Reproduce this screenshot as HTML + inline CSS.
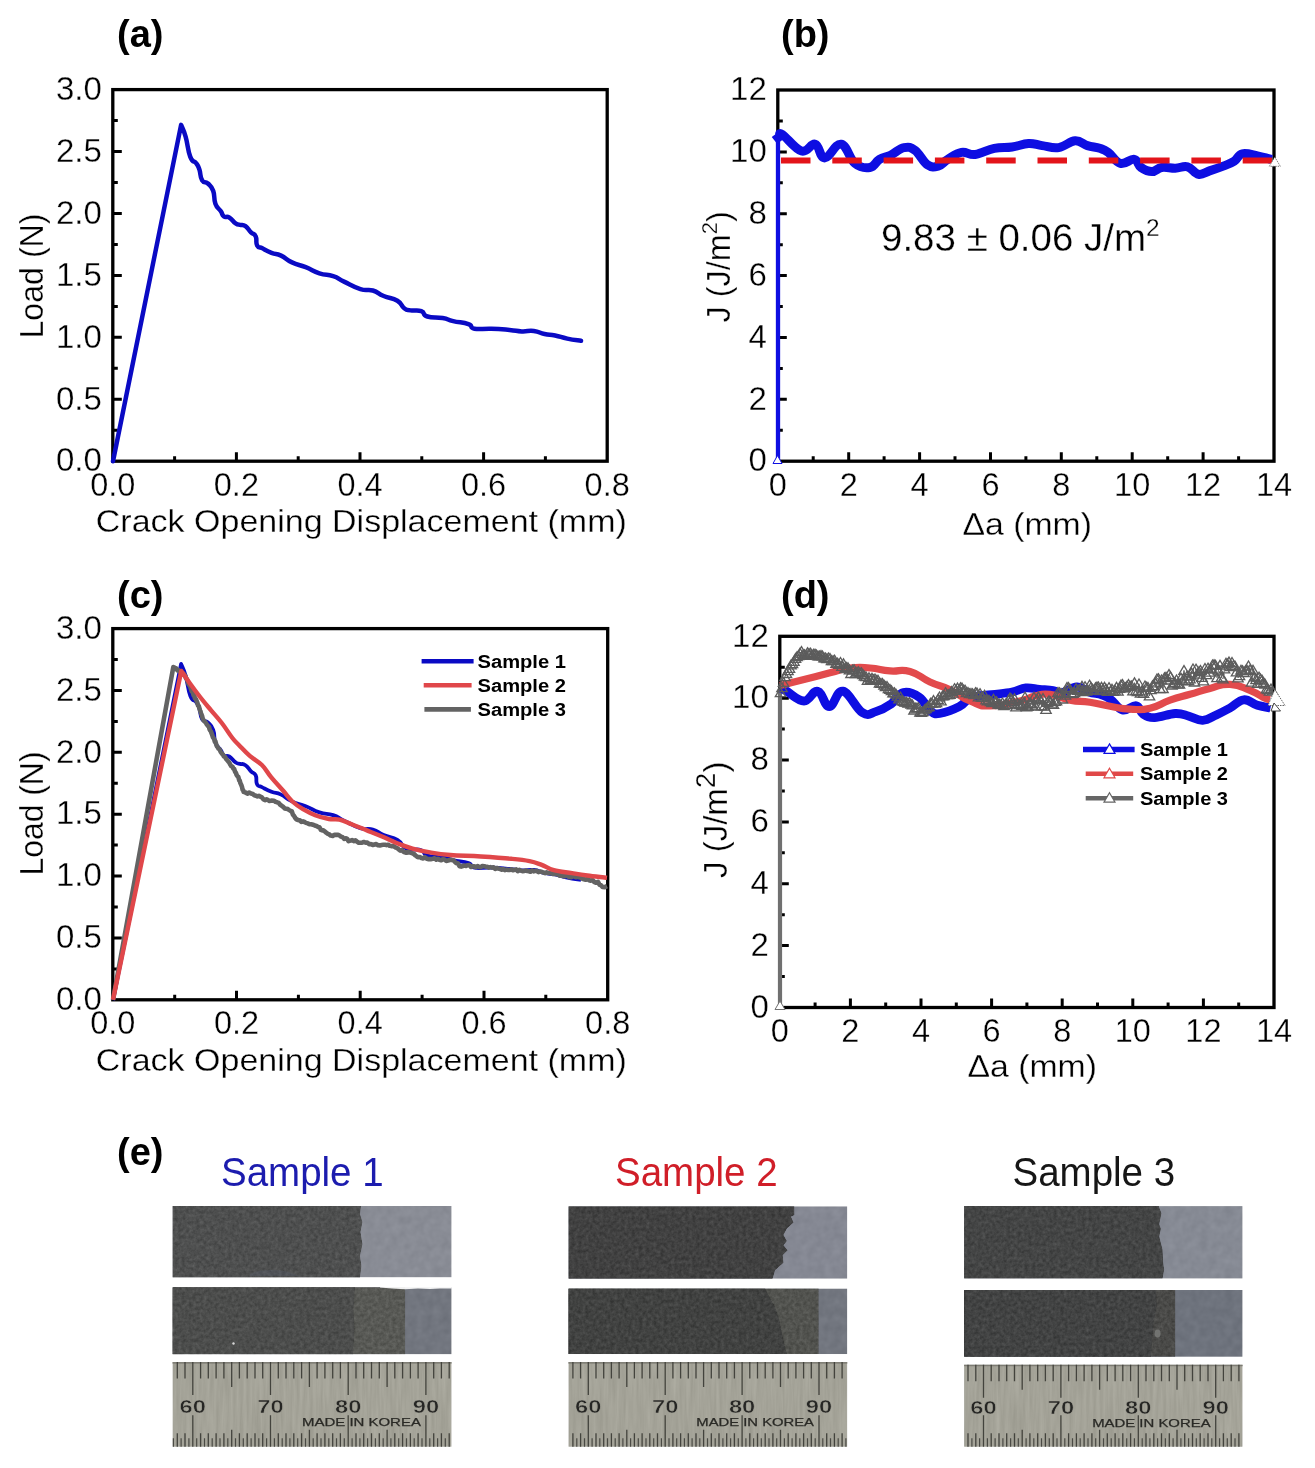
<!DOCTYPE html>
<html><head><meta charset="utf-8"><title>Figure</title>
<style>html,body{margin:0;padding:0;background:#fff;overflow:hidden;}svg{display:block;filter:blur(0.4px);}.e{stroke:#fff;stroke-width:0.3px;}</style></head>
<body>
<svg width="1315" height="1468" viewBox="0 0 1315 1468" font-family="Liberation Sans, sans-serif" fill="#000">
<defs>
<filter id="grain" x="0" y="0" width="100%" height="100%" color-interpolation-filters="sRGB">
<feTurbulence type="fractalNoise" baseFrequency="0.28" numOctaves="3" seed="4"/>
<feColorMatrix type="matrix" values="1 0 0 0 0  1 0 0 0 0  1 0 0 0 0  0 0 0 0 1"/>
<feComposite in2="SourceGraphic" operator="arithmetic" k1="0" k2="0.16" k3="1" k4="-0.08"/>
<feComposite in2="SourceGraphic" operator="in"/>
</filter>
<filter id="grain2" x="0" y="0" width="100%" height="100%" color-interpolation-filters="sRGB">
<feTurbulence type="fractalNoise" baseFrequency="0.12" numOctaves="2" seed="9"/>
<feColorMatrix type="matrix" values="1 0 0 0 0  1 0 0 0 0  1 0 0 0 0  0 0 0 0 1"/>
<feComposite in2="SourceGraphic" operator="arithmetic" k1="0" k2="0.07" k3="1" k4="-0.035"/>
<feComposite in2="SourceGraphic" operator="in"/>
</filter>
<filter id="brush" x="0" y="0" width="100%" height="100%" color-interpolation-filters="sRGB">
<feTurbulence type="fractalNoise" baseFrequency="0.3 0.02" numOctaves="3" seed="2"/>
<feColorMatrix type="matrix" values="1 0 0 0 0  1 0 0 0 0  1 0 0 0 0  0 0 0 0 1"/>
<feComposite in2="SourceGraphic" operator="arithmetic" k1="0" k2="0.09" k3="1" k4="-0.045"/>
<feComposite in2="SourceGraphic" operator="in"/>
</filter>
<path id="tg" d="M0,-4.8L5.2,4L-5.2,4Z" fill="none" stroke="#5c5c5c" stroke-width="1.3"/>
<path id="tr" d="M0,-5.2L5.6,4.3L-5.6,4.3Z" fill="#fff" stroke="#e24a4c" stroke-width="1.4"/>
</defs>
<rect width="1315" height="1468" fill="#fff"/>
<g font-weight="bold" font-size="38">
<text x="117" y="46.9">(a)</text>
<text x="781" y="47.0">(b)</text>
<text x="117" y="607.9">(c)</text>
<text x="781" y="607.9">(d)</text>
<text x="117" y="1164.6">(e)</text>
</g>
<path d="M174.6,461.2V456.2M236.4,461.2V452.2M298.2,461.2V456.2M360.0,461.2V452.2M421.8,461.2V456.2M483.6,461.2V452.2M545.4,461.2V456.2M112.8,430.2H117.8M112.8,399.3H121.8M112.8,368.3H117.8M112.8,337.3H121.8M112.8,306.4H117.8M112.8,275.4H121.8M112.8,244.4H117.8M112.8,213.5H121.8M112.8,182.5H117.8M112.8,151.5H121.8M112.8,120.6H117.8" stroke="#000" stroke-width="3" fill="none"/>
<rect x="112.8" y="89.6" width="494.4" height="371.6" fill="none" stroke="#000" stroke-width="3.3"/>
<text x="112.8" y="495.5" font-size="32.5" text-anchor="middle" class="e">0.0</text>
<text x="236.4" y="495.5" font-size="32.5" text-anchor="middle" class="e">0.2</text>
<text x="360.0" y="495.5" font-size="32.5" text-anchor="middle" class="e">0.4</text>
<text x="483.6" y="495.5" font-size="32.5" text-anchor="middle" class="e">0.6</text>
<text x="607.2" y="495.5" font-size="32.5" text-anchor="middle" class="e">0.8</text>
<text x="101.8" y="471.4" font-size="33" text-anchor="end" class="e">0.0</text>
<text x="101.8" y="409.5" font-size="33" text-anchor="end" class="e">0.5</text>
<text x="101.8" y="347.5" font-size="33" text-anchor="end" class="e">1.0</text>
<text x="101.8" y="285.6" font-size="33" text-anchor="end" class="e">1.5</text>
<text x="101.8" y="223.7" font-size="33" text-anchor="end" class="e">2.0</text>
<text x="101.8" y="161.7" font-size="33" text-anchor="end" class="e">2.5</text>
<text x="101.8" y="99.8" font-size="33" text-anchor="end" class="e">3.0</text>
<path d="M813.2,461.2V456.2M848.7,461.2V452.2M884.1,461.2V456.2M919.6,461.2V452.2M955.0,461.2V456.2M990.5,461.2V452.2M1025.9,461.2V456.2M1061.3,461.2V452.2M1096.8,461.2V456.2M1132.2,461.2V452.2M1167.7,461.2V456.2M1203.1,461.2V452.2M1238.6,461.2V456.2M777.8,430.3H782.8M777.8,399.3H786.8M777.8,368.4H782.8M777.8,337.5H786.8M777.8,306.5H782.8M777.8,275.6H786.8M777.8,244.7H782.8M777.8,213.7H786.8M777.8,182.8H782.8M777.8,151.9H786.8M777.8,120.9H782.8" stroke="#000" stroke-width="3" fill="none"/>
<rect x="777.8" y="90.0" width="496.2" height="371.2" fill="none" stroke="#000" stroke-width="3.3"/>
<text x="777.8" y="495.5" font-size="32.5" text-anchor="middle" class="e">0</text>
<text x="848.7" y="495.5" font-size="32.5" text-anchor="middle" class="e">2</text>
<text x="919.6" y="495.5" font-size="32.5" text-anchor="middle" class="e">4</text>
<text x="990.5" y="495.5" font-size="32.5" text-anchor="middle" class="e">6</text>
<text x="1061.3" y="495.5" font-size="32.5" text-anchor="middle" class="e">8</text>
<text x="1132.2" y="495.5" font-size="32.5" text-anchor="middle" class="e">10</text>
<text x="1203.1" y="495.5" font-size="32.5" text-anchor="middle" class="e">12</text>
<text x="1274.0" y="495.5" font-size="32.5" text-anchor="middle" class="e">14</text>
<text x="766.8" y="471.4" font-size="33" text-anchor="end" class="e">0</text>
<text x="766.8" y="409.5" font-size="33" text-anchor="end" class="e">2</text>
<text x="766.8" y="347.7" font-size="33" text-anchor="end" class="e">4</text>
<text x="766.8" y="285.8" font-size="33" text-anchor="end" class="e">6</text>
<text x="766.8" y="223.9" font-size="33" text-anchor="end" class="e">8</text>
<text x="766.8" y="162.1" font-size="33" text-anchor="end" class="e">10</text>
<text x="766.8" y="100.2" font-size="33" text-anchor="end" class="e">12</text>
<path d="M174.7,999.8V994.8M236.5,999.8V990.8M298.4,999.8V994.8M360.2,999.8V990.8M422.1,999.8V994.8M484.0,999.8V990.8M545.8,999.8V994.8M112.8,968.9H117.8M112.8,937.9H121.8M112.8,907.0H117.8M112.8,876.1H121.8M112.8,845.1H117.8M112.8,814.2H121.8M112.8,783.3H117.8M112.8,752.3H121.8M112.8,721.4H117.8M112.8,690.5H121.8M112.8,659.5H117.8" stroke="#000" stroke-width="3" fill="none"/>
<rect x="112.8" y="628.6" width="494.9" height="371.2" fill="none" stroke="#000" stroke-width="3.3"/>
<text x="112.8" y="1034.1" font-size="32.5" text-anchor="middle" class="e">0.0</text>
<text x="236.5" y="1034.1" font-size="32.5" text-anchor="middle" class="e">0.2</text>
<text x="360.2" y="1034.1" font-size="32.5" text-anchor="middle" class="e">0.4</text>
<text x="484.0" y="1034.1" font-size="32.5" text-anchor="middle" class="e">0.6</text>
<text x="607.7" y="1034.1" font-size="32.5" text-anchor="middle" class="e">0.8</text>
<text x="101.8" y="1010.0" font-size="33" text-anchor="end" class="e">0.0</text>
<text x="101.8" y="948.1" font-size="33" text-anchor="end" class="e">0.5</text>
<text x="101.8" y="886.3" font-size="33" text-anchor="end" class="e">1.0</text>
<text x="101.8" y="824.4" font-size="33" text-anchor="end" class="e">1.5</text>
<text x="101.8" y="762.5" font-size="33" text-anchor="end" class="e">2.0</text>
<text x="101.8" y="700.7" font-size="33" text-anchor="end" class="e">2.5</text>
<text x="101.8" y="638.8" font-size="33" text-anchor="end" class="e">3.0</text>
<path d="M815.1,1007.5V1002.5M850.4,1007.5V998.5M885.7,1007.5V1002.5M921.0,1007.5V998.5M956.3,1007.5V1002.5M991.6,1007.5V998.5M1026.9,1007.5V1002.5M1062.2,1007.5V998.5M1097.5,1007.5V1002.5M1132.8,1007.5V998.5M1168.1,1007.5V1002.5M1203.4,1007.5V998.5M1238.7,1007.5V1002.5M779.8,976.6H784.8M779.8,945.6H788.8M779.8,914.7H784.8M779.8,883.8H788.8M779.8,852.8H784.8M779.8,821.9H788.8M779.8,791.0H784.8M779.8,760.0H788.8M779.8,729.1H784.8M779.8,698.2H788.8M779.8,667.2H784.8" stroke="#000" stroke-width="3" fill="none"/>
<rect x="779.8" y="636.3" width="494.2" height="371.2" fill="none" stroke="#000" stroke-width="3.3"/>
<text x="779.8" y="1041.8" font-size="32.5" text-anchor="middle" class="e">0</text>
<text x="850.4" y="1041.8" font-size="32.5" text-anchor="middle" class="e">2</text>
<text x="921.0" y="1041.8" font-size="32.5" text-anchor="middle" class="e">4</text>
<text x="991.6" y="1041.8" font-size="32.5" text-anchor="middle" class="e">6</text>
<text x="1062.2" y="1041.8" font-size="32.5" text-anchor="middle" class="e">8</text>
<text x="1132.8" y="1041.8" font-size="32.5" text-anchor="middle" class="e">10</text>
<text x="1203.4" y="1041.8" font-size="32.5" text-anchor="middle" class="e">12</text>
<text x="1274.0" y="1041.8" font-size="32.5" text-anchor="middle" class="e">14</text>
<text x="768.8" y="1017.7" font-size="33" text-anchor="end" class="e">0</text>
<text x="768.8" y="955.8" font-size="33" text-anchor="end" class="e">2</text>
<text x="768.8" y="894.0" font-size="33" text-anchor="end" class="e">4</text>
<text x="768.8" y="832.1" font-size="33" text-anchor="end" class="e">6</text>
<text x="768.8" y="770.2" font-size="33" text-anchor="end" class="e">8</text>
<text x="768.8" y="708.4" font-size="33" text-anchor="end" class="e">10</text>
<text x="768.8" y="646.5" font-size="33" text-anchor="end" class="e">12</text>
<text x="95.8" y="531.6" font-size="31.5" class="e" textLength="531" lengthAdjust="spacingAndGlyphs">Crack Opening Displacement (mm)</text>
<text x="95.8" y="1070.8" font-size="31.5" class="e" textLength="531" lengthAdjust="spacingAndGlyphs">Crack Opening Displacement (mm)</text>
<text x="962.5" y="534.5" font-size="31.5" class="e" textLength="129.5" lengthAdjust="spacingAndGlyphs">Δa (mm)</text>
<text x="967.5" y="1076.5" font-size="31.5" class="e" textLength="129.5" lengthAdjust="spacingAndGlyphs">Δa (mm)</text>
<text transform="translate(43.2,338.5) rotate(-90)" font-size="33.5" class="e" textLength="125" lengthAdjust="spacingAndGlyphs">Load (N)</text>
<text transform="translate(43.2,875.5) rotate(-90)" font-size="33.5" class="e" textLength="124" lengthAdjust="spacingAndGlyphs">Load (N)</text>
<text transform="translate(729.5,322.5) rotate(-90)" font-size="32.4" class="e">J (J/m<tspan font-size="22" dy="-12.5">2</tspan><tspan dy="12.5">)</tspan></text>
<text transform="translate(726.5,878) rotate(-90)" font-size="33" class="e">J (J/m<tspan font-size="28" dy="-12">2</tspan><tspan dy="12">)</tspan></text>
<text x="881" y="250.6" font-size="38.5" class="e">9.83 ± 0.06 J/m<tspan font-size="24.5" dy="-14.5">2</tspan></text>
<path d="M113,461.2L181.1,124.9C182.3,128.0 183.1,128.1 185.6,136.6C188.1,145.1 187.5,149.7 190.3,156.8C193.1,163.9 193.8,159.8 196.2,163.2C198.6,166.6 197.8,165.0 199.4,169.6C201.0,174.2 199.8,176.6 202.1,180.3C204.4,184.0 204.9,180.7 207.9,183.5C210.9,186.3 211.2,185.5 213.2,190.9C215.2,196.3 213.4,198.3 215.4,203.7C217.4,209.1 218.4,207.7 220.7,211.1C223.0,214.5 221.6,214.8 223.9,216.5C226.2,218.2 226.1,215.7 229.2,217.5C232.3,219.3 232.7,221.5 235.6,223.4C238.5,225.3 237.4,224.1 240.0,224.8C242.6,225.5 242.6,224.2 245.5,226.2C248.4,228.2 248.3,229.6 251.0,232.3C253.7,235.0 254.1,232.9 255.7,236.4C257.3,239.9 255.4,242.2 257.1,245.3C258.8,248.4 258.1,246.1 261.9,248.1C265.7,250.1 266.4,250.8 271.5,252.8C276.6,254.8 275.6,253.0 281.1,255.6C286.6,258.2 285.4,259.3 292.0,262.4C298.6,265.5 298.4,264.3 305.7,267.2C313.0,270.1 312.1,271.0 319.4,273.4C326.7,275.8 326.5,273.9 333.1,276.1C339.7,278.3 336.7,278.1 344.0,281.6C351.3,285.1 352.7,286.7 360.4,289.1C368.1,291.5 366.6,288.7 372.8,290.5C379.0,292.3 377.1,293.3 383.7,296.0C390.3,298.7 391.9,297.5 397.4,300.8C402.9,304.1 400.7,305.7 404.2,308.3C407.7,310.9 406.0,309.6 410.6,310.4C415.2,311.2 416.8,309.6 421.3,311.2C425.8,312.8 421.7,314.7 427.4,316.5C433.1,318.3 435.7,316.8 442.6,318.0C449.5,319.2 446.3,319.5 453.2,321.1C460.1,322.7 462.7,322.1 468.4,324.1C474.1,326.1 468.4,327.5 474.5,328.7C480.6,329.9 482.0,328.4 491.3,328.7C500.6,329.0 501.4,329.2 509.5,329.9C517.6,330.6 515.2,331.1 521.7,331.4C528.2,331.7 527.7,330.3 533.8,331.0C539.9,331.7 538.8,332.8 544.5,334.0C550.2,335.2 549.0,334.3 555.1,335.5C561.2,336.7 560.4,337.2 567.3,338.6C574.2,340.0 577.3,340.2 581.0,340.8" fill="none" stroke="#0a0ac4" stroke-width="4.5" stroke-linejoin="round" stroke-linecap="round"/>
<line x1="778" y1="463" x2="778" y2="136" stroke="#0e0ee2" stroke-width="4.3"/>
<path d="M774.5,140.5C775.4,139.8 777.4,138.2 779.0,137.0C780.6,135.8 777.8,131.7 782.3,134.5C786.8,137.3 794.9,149.1 801.5,151.0C808.1,152.9 810.6,142.8 815.2,144.2C819.8,145.6 819.5,157.9 824.7,157.9C829.9,157.9 835.2,143.1 841.2,144.2C847.2,145.3 849.2,158.7 854.9,163.4C860.6,168.1 865.0,168.3 869.9,167.5C874.8,166.7 875.4,161.8 879.5,159.3C883.6,156.8 885.6,157.5 890.5,155.2C895.4,152.9 899.2,148.6 904.1,147.6C909.0,146.6 910.4,147.0 915.1,150.4C919.8,153.8 922.8,161.6 927.4,164.7C932.0,167.8 934.1,167.2 938.2,166.1C942.3,165.0 943.1,162.0 947.8,159.3C952.5,156.6 956.0,153.4 961.5,152.4C967.0,151.4 968.6,155.3 975.2,154.5C981.8,153.7 986.9,149.8 994.3,148.3C1001.7,146.8 1005.3,148.0 1012.1,147.0C1018.9,146.0 1022.5,143.8 1028.5,143.5C1034.5,143.2 1036.2,144.8 1042.2,145.6C1048.2,146.4 1052.1,148.6 1058.7,147.6C1065.3,146.6 1069.4,141.2 1075.1,140.8C1080.8,140.4 1082.5,144.1 1087.4,145.6C1092.3,147.1 1095.5,146.9 1099.7,148.3C1103.9,149.7 1104.0,149.4 1108.2,152.4C1112.4,155.4 1115.3,162.0 1120.5,163.4C1125.7,164.8 1130.1,158.5 1134.2,159.3C1138.3,160.1 1137.5,165.0 1141.1,167.5C1144.7,170.0 1147.9,171.6 1152.0,171.6C1156.1,171.6 1156.9,168.2 1161.6,167.5C1166.3,166.8 1170.1,168.3 1175.3,168.2C1180.5,168.1 1183.0,165.6 1187.6,166.8C1192.2,168.0 1194.1,173.5 1198.5,174.3C1202.9,175.1 1204.6,172.5 1209.5,170.9C1214.4,169.3 1218.3,168.0 1223.2,166.1C1228.1,164.2 1230.3,163.8 1234.1,161.3C1237.9,158.8 1237.6,154.9 1242.3,153.8C1247.0,152.7 1252.2,154.9 1257.4,155.9C1262.6,156.9 1265.6,157.9 1268.4,158.6C1271.2,159.3 1270.9,159.3 1271.5,159.5" fill="none" stroke="#0e0ee2" stroke-width="9" stroke-linejoin="round" stroke-linecap="butt"/>
<path d="M777.5,455.5L782,463.5L773,463.5Z" fill="#fff" stroke="#0e0ee2" stroke-width="1"/>
<line x1="781" y1="160.5" x2="1272" y2="160.5" stroke="#e3141a" stroke-width="5.8" stroke-dasharray="29.5 21.8"/>
<path d="M1274.8,157L1280.3,166.3L1269.3,166.3Z" fill="#fff" stroke="#555" stroke-width="0.8" stroke-dasharray="1.4 1"/>
<path d="M113,1000.2L181.1,663.9C182.3,667.0 183.1,667.1 185.6,675.6C188.1,684.1 187.5,688.7 190.3,695.8C193.1,702.9 193.8,698.8 196.2,702.2C198.6,705.6 197.8,704.0 199.4,708.6C201.0,713.2 199.8,715.6 202.1,719.3C204.4,723.0 204.9,719.7 207.9,722.5C210.9,725.3 211.2,724.5 213.2,729.9C215.2,735.3 213.4,737.3 215.4,742.7C217.4,748.1 218.4,746.7 220.7,750.1C223.0,753.5 221.6,753.8 223.9,755.5C226.2,757.2 226.1,754.7 229.2,756.5C232.3,758.3 232.7,760.5 235.6,762.4C238.5,764.3 237.4,763.1 240.0,763.8C242.6,764.5 242.6,763.2 245.5,765.2C248.4,767.2 248.3,768.6 251.0,771.3C253.7,774.0 254.1,771.9 255.7,775.4C257.3,778.9 255.4,781.2 257.1,784.3C258.8,787.4 258.1,785.1 261.9,787.1C265.7,789.1 266.4,789.8 271.5,791.8C276.6,793.8 275.6,792.0 281.1,794.6C286.6,797.2 285.4,798.3 292.0,801.4C298.6,804.5 298.4,803.3 305.7,806.2C313.0,809.1 312.1,810.0 319.4,812.4C326.7,814.8 326.5,812.9 333.1,815.1C339.7,817.3 336.7,817.1 344.0,820.6C351.3,824.1 352.7,825.7 360.4,828.1C368.1,830.5 366.6,827.7 372.8,829.5C379.0,831.3 377.1,832.3 383.7,835.0C390.3,837.7 391.9,836.5 397.4,839.8C402.9,843.1 400.7,844.7 404.2,847.3C407.7,849.9 406.0,848.6 410.6,849.4C415.2,850.2 416.8,848.6 421.3,850.2C425.8,851.8 421.7,853.7 427.4,855.5C433.1,857.3 435.7,855.8 442.6,857.0C449.5,858.2 446.3,858.5 453.2,860.1C460.1,861.7 462.7,861.1 468.4,863.1C474.1,865.1 468.4,866.5 474.5,867.7C480.6,868.9 482.0,867.4 491.3,867.7C500.6,868.0 501.4,868.2 509.5,868.9C517.6,869.6 515.2,870.1 521.7,870.4C528.2,870.7 527.7,869.3 533.8,870.0C539.9,870.7 538.8,871.8 544.5,873.0C550.2,874.2 549.0,873.3 555.1,874.5C561.2,875.7 560.4,876.2 567.3,877.6C574.2,879.0 577.3,879.2 581.0,879.8" fill="none" stroke="#0a0ac4" stroke-width="3.8" stroke-linejoin="round"/>
<polyline points="113.0,999.8 173.3,667.1 174.7,667.7 176.1,668.4 177.5,670.4 178.9,670.2 180.3,672.2 181.7,672.8 183.1,673.2 184.5,675.1 185.2,675.7 185.9,678.0 186.6,678.8 187.3,680.3 188.0,682.5 188.8,684.8 189.5,684.9 190.2,686.6 190.9,688.9 191.6,691.1 192.3,691.8 193.0,693.0 193.6,695.6 194.3,695.3 194.9,698.4 195.6,698.7 196.2,699.9 196.8,701.4 197.5,703.2 198.1,705.8 198.8,706.0 199.4,708.3 199.9,710.2 200.5,711.4 201.0,713.5 201.5,714.4 202.1,716.1 202.6,718.2 203.7,720.6 204.7,721.5 205.8,722.7 206.9,724.6 207.9,725.8 209.0,726.9 209.6,729.4 210.3,730.7 210.9,731.3 211.6,733.4 212.2,734.8 212.8,737.0 213.5,738.2 214.1,738.8 214.8,741.7 215.4,741.4 216.1,743.8 216.8,746.2 217.5,746.8 218.6,748.8 219.6,749.3 220.7,752.0 221.8,753.5 222.9,754.5 223.9,756.5 225.0,756.7 226.1,758.9 227.1,760.0 228.2,761.4 229.2,762.5 230.3,764.6 231.3,766.2 232.4,766.6 233.3,768.5 234.1,768.8 235.0,771.6 235.9,772.9 236.7,775.1 237.6,776.2 238.2,776.7 238.7,778.4 239.3,780.5 239.8,780.8 240.4,783.2 240.9,784.1 241.5,785.5 242.0,786.9 242.6,789.9 243.1,790.1 243.7,791.9 245.5,792.5 247.3,793.7 249.2,792.5 251.0,793.5 252.8,794.0 254.3,795.3 255.8,795.7 257.4,796.4 258.9,795.9 260.4,796.7 261.9,797.4 263.4,799.2 264.9,800.1 266.5,799.3 268.0,800.1 269.5,801.0 271.8,800.6 274.1,800.7 275.6,801.9 277.1,802.3 278.7,802.9 280.2,804.8 281.7,805.7 283.2,806.9 284.7,808.4 286.2,808.7 287.8,809.1 289.3,810.1 290.8,811.0 291.8,811.2 292.8,814.4 293.9,815.7 294.9,817.4 295.9,818.8 296.9,819.5 298.4,820.1 299.9,820.2 301.4,821.9 303.0,821.4 304.5,822.0 306.0,822.9 307.7,823.4 309.5,824.3 311.2,824.2 313.0,824.7 314.7,825.5 316.5,826.0 318.2,827.0 319.5,827.3 320.9,829.9 322.2,830.4 323.5,830.4 324.9,831.6 326.2,832.7 327.6,833.7 328.9,834.1 330.8,835.6 332.7,835.9 334.6,834.8 336.5,834.9 338.0,834.7 339.5,835.5 341.0,836.6 342.6,837.1 344.1,838.9 345.6,838.3 347.1,838.7 348.6,841.2 350.3,840.6 352.0,840.1 353.7,841.1 355.4,840.3 357.0,841.6 358.7,842.7 360.4,842.7 362.1,842.6 363.8,842.0 365.6,842.6 367.4,842.6 369.1,844.2 370.9,844.1 372.7,845.0 374.5,844.5 376.3,844.1 378.0,845.2 379.8,845.4 381.6,845.0 383.3,844.8 385.1,844.7 386.6,845.1 388.2,844.7 389.7,845.8 391.2,846.1 392.7,846.0 394.2,846.5 395.8,847.6 397.3,848.1 398.8,849.5 400.3,850.6 401.9,850.1 403.4,851.6 404.9,852.3 406.4,852.8 407.9,852.1 409.5,852.4 411.0,852.9 412.5,853.4 414.0,854.0 415.5,855.5 417.1,856.7 418.6,857.2 420.1,857.1 421.6,858.1 423.2,858.5 424.9,857.2 426.5,858.5 428.1,859.1 429.8,859.0 431.4,859.1 433.0,858.7 434.6,858.2 436.3,859.6 437.9,858.8 439.5,859.8 441.2,860.3 442.8,859.3 444.5,859.5 446.3,860.9 448.0,860.6 449.8,859.8 451.5,859.9 453.3,860.2 455.0,861.9 456.5,863.2 458.0,863.4 459.5,866.3 461.1,866.6 462.8,866.0 464.4,865.5 466.1,865.9 467.7,865.2 469.3,865.0 471.0,867.0 472.6,866.4 474.2,866.2 475.9,867.1 477.5,866.1 479.2,867.1 480.8,867.1 482.4,866.0 484.0,866.3 485.6,866.6 487.2,866.7 488.8,867.6 490.4,867.1 492.0,867.6 493.6,867.3 495.2,869.0 496.9,868.1 498.5,868.5 500.1,869.0 501.7,869.8 503.3,869.0 504.9,870.2 506.5,869.6 508.1,869.9 509.7,870.0 511.3,869.2 512.9,870.2 514.5,869.7 516.1,869.4 517.7,871.1 519.3,869.9 520.9,870.6 522.5,871.2 524.1,870.9 525.7,870.6 527.3,871.0 528.9,871.2 530.5,871.7 532.1,870.4 533.7,871.4 535.3,870.9 536.9,871.0 538.5,872.1 540.1,871.6 541.7,871.8 543.3,872.5 545.0,873.1 546.6,872.4 548.2,873.0 549.8,873.1 551.5,873.4 553.1,874.0 554.7,873.8 556.4,874.2 558.0,874.4 559.6,875.6 561.2,875.4 562.9,876.0 564.5,876.4 566.1,875.3 567.8,876.2 569.4,877.2 571.0,877.3 572.6,876.1 574.3,876.4 575.9,877.3 577.5,876.8 579.2,877.4 580.8,877.4 582.4,878.8 584.0,879.3 585.7,879.8 587.3,878.6 589.1,880.2 590.9,880.7 592.6,880.1 594.4,882.1 596.2,882.8 598.0,881.8 599.5,884.8 601.0,885.2 602.5,886.9 604.8,887.1 607.0,886.1" fill="none" stroke="#636363" stroke-width="4.6" stroke-linejoin="round"/>
<path d="M113,999.8L181.3,670.9C183.2,673.7 187.1,679.4 190.9,684.7C194.7,690.0 196.5,692.4 200.5,697.5C204.5,702.6 206.8,705.2 211.1,710.3C215.4,715.4 217.5,717.5 221.8,723.0C226.1,728.5 228.9,733.6 232.4,738.0C235.9,742.4 235.6,741.6 239.1,745.2C242.6,748.8 245.2,751.9 249.8,755.9C254.4,759.9 257.6,760.8 261.9,765.0C266.2,769.2 266.8,771.9 271.1,777.1C275.4,782.3 278.9,785.9 283.2,790.8C287.5,795.7 288.4,797.8 292.4,801.5C296.4,805.2 298.4,806.4 303.0,809.1C307.6,811.8 310.0,813.2 315.2,815.2C320.4,817.2 324.0,818.1 328.9,819.0C333.8,819.9 334.9,818.6 339.5,819.7C344.1,820.8 346.2,822.2 351.7,824.3C357.2,826.4 360.8,828.0 366.9,830.4C373.0,832.8 376.0,833.9 382.1,836.5C388.2,839.1 391.2,840.9 397.3,843.3C403.4,845.7 406.0,846.8 412.5,848.6C419.0,850.4 422.4,851.1 430.0,852.4C437.6,853.7 440.2,854.2 450.4,855.0C460.6,855.8 468.6,855.7 480.8,856.5C493.0,857.3 501.6,857.9 511.3,858.8C521.0,859.7 523.4,859.9 529.5,861.1C535.6,862.3 536.8,863.1 541.7,864.9C546.6,866.7 547.7,868.5 553.8,870.2C559.9,871.9 565.4,872.1 572.1,873.2C578.8,874.3 580.3,874.6 587.3,875.5C594.3,876.4 603.1,877.3 607.0,877.8" fill="none" stroke="#e0474a" stroke-width="4.4" stroke-linejoin="round"/>
<line x1="780" y1="1009" x2="780" y2="690" stroke="#707070" stroke-width="4.2"/>
<path d="M780.5,688.0C781.7,688.6 781.9,688.6 786.6,691.2C791.3,693.8 797.8,701.0 804.0,701.0C810.2,701.0 812.6,690.1 817.7,691.2C822.8,692.3 824.3,706.7 829.3,706.7C834.3,706.7 836.3,690.0 842.9,691.2C849.5,692.4 855.7,708.5 862.3,712.6C868.9,716.7 870.0,713.4 875.8,711.6C881.6,709.8 885.8,707.6 891.3,703.8C896.8,700.0 897.9,693.8 903.5,692.5C909.1,691.2 914.2,693.8 919.5,697.4C924.8,701.0 926.0,707.4 930.1,710.6C934.2,713.8 934.0,714.3 939.8,713.5C945.6,712.7 952.9,709.9 959.2,706.7C965.5,703.5 964.6,699.9 971.1,697.5C977.6,695.1 983.4,695.8 991.6,694.7C999.8,693.6 1005.3,693.4 1012.1,692.0C1018.9,690.6 1020.3,688.4 1025.8,687.9C1031.3,687.4 1034.0,688.8 1039.5,689.3C1045.0,689.8 1048.9,689.9 1053.2,690.6C1057.5,691.3 1056.2,693.7 1061.0,693.0C1065.8,692.3 1071.4,687.2 1077.0,687.0C1082.6,686.8 1084.1,690.4 1089.0,692.0C1093.9,693.6 1097.5,693.4 1101.7,694.8C1105.9,696.2 1106.0,696.0 1110.2,699.0C1114.4,702.0 1117.3,708.6 1122.5,710.0C1127.7,711.4 1132.1,705.0 1136.2,705.8C1140.3,706.6 1139.4,711.6 1143.1,714.0C1146.8,716.4 1148.3,717.7 1154.7,717.6C1161.1,717.5 1168.4,713.8 1175.3,713.5C1182.2,713.2 1183.5,714.8 1189.0,716.2C1194.5,717.6 1197.2,720.6 1202.7,720.3C1208.2,720.0 1210.8,717.4 1216.3,714.9C1221.8,712.4 1224.5,711.0 1230.0,708.0C1235.5,705.0 1238.2,700.3 1243.7,699.8C1249.2,699.3 1252.0,703.7 1257.4,705.3C1262.8,706.9 1267.9,707.5 1270.5,708.0" fill="none" stroke="#0e0ee2" stroke-width="8.8" stroke-linejoin="round" stroke-linecap="butt"/>
<path d="M780.0,685.5C785.3,684.2 786.7,684.0 800.0,680.6C813.3,677.2 816.7,676.2 830.0,672.8C843.3,669.4 839.3,669.3 850.0,668.0C860.7,666.7 859.3,667.2 870.0,668.0C880.7,668.8 879.3,670.0 890.0,670.9C900.7,671.8 899.3,668.5 910.0,671.5C920.7,674.5 919.3,677.1 930.0,682.0C940.7,686.9 939.3,684.6 950.0,689.7C960.7,694.8 959.3,696.7 970.0,701.0C980.7,705.3 976.7,706.0 990.0,706.0C1003.3,706.0 1008.0,703.6 1020.0,700.9C1032.0,698.2 1027.0,697.8 1035.0,696.0C1043.0,694.2 1040.7,693.2 1050.0,694.3C1059.3,695.4 1059.3,698.1 1070.0,700.2C1080.7,702.3 1079.3,700.6 1090.0,702.2C1100.7,703.8 1099.3,704.4 1110.0,706.2C1120.7,708.0 1119.3,708.6 1130.0,709.1C1140.7,709.6 1139.3,710.6 1150.0,708.2C1160.7,705.8 1159.3,703.9 1170.0,700.2C1180.7,696.5 1179.3,697.4 1190.0,694.3C1200.7,691.2 1199.3,691.0 1210.0,688.4C1220.7,685.8 1219.3,683.9 1230.0,684.4C1240.7,684.9 1240.7,686.7 1250.0,690.4C1259.3,694.1 1259.7,695.9 1265.0,698.3C1270.3,700.7 1268.7,699.2 1270.0,699.5" fill="none" stroke="#e24a4c" stroke-width="7.2" stroke-linejoin="round" stroke-linecap="butt"/>
<polyline points="780.5,692.7 782.0,687.7 783.5,682.4 785.0,676.7 786.5,673.5 788.0,670.7 789.5,668.4 791.0,664.8 792.5,663.6 794.0,661.3 795.5,658.4 797.0,656.7 798.5,655.5 800.0,653.1 801.5,651.4 803.0,655.2 804.5,654.6 806.0,655.3 807.5,652.6 809.0,653.4 810.5,653.0 812.0,655.2 813.5,654.1 815.0,654.0 816.5,654.8 818.0,655.9 819.5,655.9 821.0,655.4 822.5,655.8 824.0,657.9 825.5,657.8 827.0,658.7 828.5,657.8 830.0,658.3 831.5,660.7 833.0,660.5 834.5,660.0 836.0,663.4 837.5,663.0 839.0,664.3 840.5,662.3 842.0,666.4 843.5,663.7 845.0,668.7 846.5,667.4 848.0,667.7 849.5,669.9 851.0,673.5 852.5,669.8 854.0,669.5 855.5,673.6 857.0,672.0 858.5,671.7 860.0,672.9 861.5,672.6 863.0,674.6 864.5,676.1 866.0,676.6 867.5,680.4 869.0,677.7 870.5,679.5 872.0,678.2 873.5,679.7 875.0,678.8 876.5,680.4 878.0,680.2 879.5,683.0 881.0,683.3 882.5,683.4 884.0,685.0 885.5,686.7 887.0,686.4 888.5,688.7 890.0,689.3 891.5,690.6 893.0,692.8 894.5,692.6 896.0,694.2 897.5,696.2 899.0,698.9 900.5,697.0 902.0,700.7 903.5,701.3 905.0,702.1 906.5,702.1 908.0,703.0 909.5,702.5 911.0,704.1 912.5,704.9 914.0,710.0 915.5,708.0 917.0,707.8 918.5,707.6 920.0,712.1 921.5,712.4 923.0,711.6 924.5,709.8 926.0,708.6 927.5,707.2 929.0,706.5 930.5,703.2 932.0,703.1 933.5,700.4 935.0,703.0 936.5,702.5 938.0,699.3 939.5,696.8 941.0,700.9 942.5,695.9 944.0,695.6 945.5,692.5 947.0,694.6 948.5,694.7 950.0,694.3 951.5,691.4 953.0,693.1 954.5,688.5 956.0,690.0 957.5,687.9 959.0,690.4 960.5,687.7 962.0,687.9 963.5,690.2 965.0,690.0 966.5,692.5 968.0,692.3 969.5,693.7 971.0,693.3 972.5,693.7 974.0,694.6 975.5,692.5 977.0,692.9 978.5,696.9 980.0,693.5 981.5,697.0 983.0,697.4 984.5,695.1 986.0,699.8 987.5,700.8 989.0,700.2 990.5,701.5 992.0,702.6 993.5,699.1 995.0,701.5 996.5,701.5 998.0,704.0 999.5,704.1 1001.0,704.5 1002.5,702.8 1004.0,705.7 1005.5,704.1 1007.0,704.5 1008.5,700.0 1010.0,697.9 1011.5,699.0 1013.0,701.4 1014.5,698.6 1016.0,706.8 1017.5,703.7 1019.0,704.5 1020.5,704.6 1022.0,705.3 1023.5,703.0 1025.0,697.0 1026.5,706.9 1028.0,706.3 1029.5,703.2 1031.0,703.6 1032.5,705.2 1034.0,697.2 1035.5,706.2 1037.0,699.5 1038.5,696.9 1040.0,699.5 1041.5,705.9 1043.0,698.4 1044.5,706.0 1046.0,709.4 1047.5,702.3 1049.0,700.6 1050.5,701.7 1052.0,704.0 1053.5,704.3 1055.0,701.4 1056.5,700.9 1058.0,692.3 1059.5,692.6 1061.0,693.3 1062.5,699.0 1064.0,692.5 1065.5,695.1 1067.0,687.4 1068.5,687.3 1070.0,689.1 1071.5,693.5 1073.0,693.3 1074.5,692.7 1076.0,688.5 1077.5,690.4 1079.0,689.6 1080.5,689.3 1082.0,686.2 1083.5,691.7 1085.0,686.5 1086.5,691.2 1088.0,690.3 1089.5,685.0 1091.0,687.3 1092.5,689.2 1094.0,690.1 1095.5,687.7 1097.0,686.9 1098.5,686.8 1100.0,690.6 1101.5,687.1 1103.0,689.1 1104.5,687.1 1106.0,689.1 1107.5,691.4 1109.0,687.5 1110.5,691.0 1112.0,689.2 1113.5,691.3 1115.0,690.1 1116.5,687.1 1118.0,691.2 1119.5,688.4 1121.0,684.9 1122.5,684.4 1124.0,687.9 1125.5,687.5 1127.0,686.0 1128.5,684.4 1130.0,686.0 1131.5,685.8 1133.0,690.9 1134.5,682.7 1136.0,690.5 1137.5,691.7 1139.0,683.8 1140.5,693.1 1142.0,690.9 1143.5,693.4 1145.0,685.8 1146.5,687.0 1148.0,687.3 1149.5,695.8 1151.0,689.6 1152.5,685.6 1154.0,685.8 1155.5,682.8 1157.0,678.8 1158.5,678.7 1160.0,688.6 1161.5,679.8 1163.0,688.5 1164.5,677.7 1166.0,677.1 1167.5,680.0 1169.0,674.4 1170.5,676.6 1172.0,685.2 1173.5,683.9 1175.0,682.7 1176.5,679.8 1178.0,683.9 1179.5,684.2 1181.0,678.2 1182.5,680.6 1184.0,670.4 1185.5,680.5 1187.0,676.1 1188.5,680.5 1190.0,678.8 1191.5,672.9 1193.0,668.8 1194.5,682.0 1196.0,669.0 1197.5,674.1 1199.0,671.5 1200.5,670.3 1202.0,677.3 1203.5,680.9 1205.0,668.3 1206.5,674.7 1208.0,668.0 1209.5,672.2 1211.0,669.0 1212.5,664.8 1214.0,664.5 1215.5,665.2 1217.0,677.7 1218.5,670.2 1220.0,665.1 1221.5,677.3 1223.0,678.8 1224.5,668.8 1226.0,663.1 1227.5,663.9 1229.0,661.9 1230.5,666.5 1232.0,662.3 1233.5,665.3 1235.0,666.0 1236.5,671.9 1238.0,677.8 1239.5,675.7 1241.0,670.1 1242.5,670.5 1244.0,672.7 1245.5,670.5 1247.0,670.2 1248.5,665.8 1250.0,669.8 1251.5,682.2 1253.0,670.1 1254.5,676.9 1256.0,679.6 1257.5,683.4 1259.0,677.0 1260.5,678.9 1262.0,680.0 1263.5,682.5 1265.0,684.0 1266.5,688.9 1268.0,689.7 1269.5,691.2 1271.0,688.9 1272.5,690.9" fill="none" stroke="#5c5c5c" stroke-width="1.0" stroke-linejoin="round"/>
<g><use href="#tg" x="780.5" y="692.7"/><use href="#tg" x="782.0" y="687.7"/><use href="#tg" x="783.5" y="682.4"/><use href="#tg" x="785.0" y="676.7"/><use href="#tg" x="786.5" y="673.5"/><use href="#tg" x="788.0" y="670.7"/><use href="#tg" x="789.5" y="668.4"/><use href="#tg" x="791.0" y="664.8"/><use href="#tg" x="792.5" y="663.6"/><use href="#tg" x="794.0" y="661.3"/><use href="#tg" x="795.5" y="658.4"/><use href="#tg" x="797.0" y="656.7"/><use href="#tg" x="798.5" y="655.5"/><use href="#tg" x="800.0" y="653.1"/><use href="#tg" x="801.5" y="651.4"/><use href="#tg" x="803.0" y="655.2"/><use href="#tg" x="804.5" y="654.6"/><use href="#tg" x="806.0" y="655.3"/><use href="#tg" x="807.5" y="652.6"/><use href="#tg" x="809.0" y="653.4"/><use href="#tg" x="810.5" y="653.0"/><use href="#tg" x="812.0" y="655.2"/><use href="#tg" x="813.5" y="654.1"/><use href="#tg" x="815.0" y="654.0"/><use href="#tg" x="816.5" y="654.8"/><use href="#tg" x="818.0" y="655.9"/><use href="#tg" x="819.5" y="655.9"/><use href="#tg" x="821.0" y="655.4"/><use href="#tg" x="822.5" y="655.8"/><use href="#tg" x="824.0" y="657.9"/><use href="#tg" x="825.5" y="657.8"/><use href="#tg" x="827.0" y="658.7"/><use href="#tg" x="828.5" y="657.8"/><use href="#tg" x="830.0" y="658.3"/><use href="#tg" x="831.5" y="660.7"/><use href="#tg" x="833.0" y="660.5"/><use href="#tg" x="834.5" y="660.0"/><use href="#tg" x="836.0" y="663.4"/><use href="#tg" x="837.5" y="663.0"/><use href="#tg" x="839.0" y="664.3"/><use href="#tg" x="840.5" y="662.3"/><use href="#tg" x="842.0" y="666.4"/><use href="#tg" x="843.5" y="663.7"/><use href="#tg" x="845.0" y="668.7"/><use href="#tg" x="846.5" y="667.4"/><use href="#tg" x="848.0" y="667.7"/><use href="#tg" x="849.5" y="669.9"/><use href="#tg" x="851.0" y="673.5"/><use href="#tg" x="852.5" y="669.8"/><use href="#tg" x="854.0" y="669.5"/><use href="#tg" x="855.5" y="673.6"/><use href="#tg" x="857.0" y="672.0"/><use href="#tg" x="858.5" y="671.7"/><use href="#tg" x="860.0" y="672.9"/><use href="#tg" x="861.5" y="672.6"/><use href="#tg" x="863.0" y="674.6"/><use href="#tg" x="864.5" y="676.1"/><use href="#tg" x="866.0" y="676.6"/><use href="#tg" x="867.5" y="680.4"/><use href="#tg" x="869.0" y="677.7"/><use href="#tg" x="870.5" y="679.5"/><use href="#tg" x="872.0" y="678.2"/><use href="#tg" x="873.5" y="679.7"/><use href="#tg" x="875.0" y="678.8"/><use href="#tg" x="876.5" y="680.4"/><use href="#tg" x="878.0" y="680.2"/><use href="#tg" x="879.5" y="683.0"/><use href="#tg" x="881.0" y="683.3"/><use href="#tg" x="882.5" y="683.4"/><use href="#tg" x="884.0" y="685.0"/><use href="#tg" x="885.5" y="686.7"/><use href="#tg" x="887.0" y="686.4"/><use href="#tg" x="888.5" y="688.7"/><use href="#tg" x="890.0" y="689.3"/><use href="#tg" x="891.5" y="690.6"/><use href="#tg" x="893.0" y="692.8"/><use href="#tg" x="894.5" y="692.6"/><use href="#tg" x="896.0" y="694.2"/><use href="#tg" x="897.5" y="696.2"/><use href="#tg" x="899.0" y="698.9"/><use href="#tg" x="900.5" y="697.0"/><use href="#tg" x="902.0" y="700.7"/><use href="#tg" x="903.5" y="701.3"/><use href="#tg" x="905.0" y="702.1"/><use href="#tg" x="906.5" y="702.1"/><use href="#tg" x="908.0" y="703.0"/><use href="#tg" x="909.5" y="702.5"/><use href="#tg" x="911.0" y="704.1"/><use href="#tg" x="912.5" y="704.9"/><use href="#tg" x="914.0" y="710.0"/><use href="#tg" x="915.5" y="708.0"/><use href="#tg" x="917.0" y="707.8"/><use href="#tg" x="918.5" y="707.6"/><use href="#tg" x="920.0" y="712.1"/><use href="#tg" x="921.5" y="712.4"/><use href="#tg" x="923.0" y="711.6"/><use href="#tg" x="924.5" y="709.8"/><use href="#tg" x="926.0" y="708.6"/><use href="#tg" x="927.5" y="707.2"/><use href="#tg" x="929.0" y="706.5"/><use href="#tg" x="930.5" y="703.2"/><use href="#tg" x="932.0" y="703.1"/><use href="#tg" x="933.5" y="700.4"/><use href="#tg" x="935.0" y="703.0"/><use href="#tg" x="936.5" y="702.5"/><use href="#tg" x="938.0" y="699.3"/><use href="#tg" x="939.5" y="696.8"/><use href="#tg" x="941.0" y="700.9"/><use href="#tg" x="942.5" y="695.9"/><use href="#tg" x="944.0" y="695.6"/><use href="#tg" x="945.5" y="692.5"/><use href="#tg" x="947.0" y="694.6"/><use href="#tg" x="948.5" y="694.7"/><use href="#tg" x="950.0" y="694.3"/><use href="#tg" x="951.5" y="691.4"/><use href="#tg" x="953.0" y="693.1"/><use href="#tg" x="954.5" y="688.5"/><use href="#tg" x="956.0" y="690.0"/><use href="#tg" x="957.5" y="687.9"/><use href="#tg" x="959.0" y="690.4"/><use href="#tg" x="960.5" y="687.7"/><use href="#tg" x="962.0" y="687.9"/><use href="#tg" x="963.5" y="690.2"/><use href="#tg" x="965.0" y="690.0"/><use href="#tg" x="966.5" y="692.5"/><use href="#tg" x="968.0" y="692.3"/><use href="#tg" x="969.5" y="693.7"/><use href="#tg" x="971.0" y="693.3"/><use href="#tg" x="972.5" y="693.7"/><use href="#tg" x="974.0" y="694.6"/><use href="#tg" x="975.5" y="692.5"/><use href="#tg" x="977.0" y="692.9"/><use href="#tg" x="978.5" y="696.9"/><use href="#tg" x="980.0" y="693.5"/><use href="#tg" x="981.5" y="697.0"/><use href="#tg" x="983.0" y="697.4"/><use href="#tg" x="984.5" y="695.1"/><use href="#tg" x="986.0" y="699.8"/><use href="#tg" x="987.5" y="700.8"/><use href="#tg" x="989.0" y="700.2"/><use href="#tg" x="990.5" y="701.5"/><use href="#tg" x="992.0" y="702.6"/><use href="#tg" x="993.5" y="699.1"/><use href="#tg" x="995.0" y="701.5"/><use href="#tg" x="996.5" y="701.5"/><use href="#tg" x="998.0" y="704.0"/><use href="#tg" x="999.5" y="704.1"/><use href="#tg" x="1001.0" y="704.5"/><use href="#tg" x="1002.5" y="702.8"/><use href="#tg" x="1004.0" y="705.7"/><use href="#tg" x="1005.5" y="704.1"/><use href="#tg" x="1007.0" y="704.5"/><use href="#tg" x="1008.5" y="700.0"/><use href="#tg" x="1010.0" y="697.9"/><use href="#tg" x="1011.5" y="699.0"/><use href="#tg" x="1013.0" y="701.4"/><use href="#tg" x="1014.5" y="698.6"/><use href="#tg" x="1016.0" y="706.8"/><use href="#tg" x="1017.5" y="703.7"/><use href="#tg" x="1019.0" y="704.5"/><use href="#tg" x="1020.5" y="704.6"/><use href="#tg" x="1022.0" y="705.3"/><use href="#tg" x="1023.5" y="703.0"/><use href="#tg" x="1025.0" y="697.0"/><use href="#tg" x="1026.5" y="706.9"/><use href="#tg" x="1028.0" y="706.3"/><use href="#tg" x="1029.5" y="703.2"/><use href="#tg" x="1031.0" y="703.6"/><use href="#tg" x="1032.5" y="705.2"/><use href="#tg" x="1034.0" y="697.2"/><use href="#tg" x="1035.5" y="706.2"/><use href="#tg" x="1037.0" y="699.5"/><use href="#tg" x="1038.5" y="696.9"/><use href="#tg" x="1040.0" y="699.5"/><use href="#tg" x="1041.5" y="705.9"/><use href="#tg" x="1043.0" y="698.4"/><use href="#tg" x="1044.5" y="706.0"/><use href="#tg" x="1046.0" y="709.4"/><use href="#tg" x="1047.5" y="702.3"/><use href="#tg" x="1049.0" y="700.6"/><use href="#tg" x="1050.5" y="701.7"/><use href="#tg" x="1052.0" y="704.0"/><use href="#tg" x="1053.5" y="704.3"/><use href="#tg" x="1055.0" y="701.4"/><use href="#tg" x="1056.5" y="700.9"/><use href="#tg" x="1058.0" y="692.3"/><use href="#tg" x="1059.5" y="692.6"/><use href="#tg" x="1061.0" y="693.3"/><use href="#tg" x="1062.5" y="699.0"/><use href="#tg" x="1064.0" y="692.5"/><use href="#tg" x="1065.5" y="695.1"/><use href="#tg" x="1067.0" y="687.4"/><use href="#tg" x="1068.5" y="687.3"/><use href="#tg" x="1070.0" y="689.1"/><use href="#tg" x="1071.5" y="693.5"/><use href="#tg" x="1073.0" y="693.3"/><use href="#tg" x="1074.5" y="692.7"/><use href="#tg" x="1076.0" y="688.5"/><use href="#tg" x="1077.5" y="690.4"/><use href="#tg" x="1079.0" y="689.6"/><use href="#tg" x="1080.5" y="689.3"/><use href="#tg" x="1082.0" y="686.2"/><use href="#tg" x="1083.5" y="691.7"/><use href="#tg" x="1085.0" y="686.5"/><use href="#tg" x="1086.5" y="691.2"/><use href="#tg" x="1088.0" y="690.3"/><use href="#tg" x="1089.5" y="685.0"/><use href="#tg" x="1091.0" y="687.3"/><use href="#tg" x="1092.5" y="689.2"/><use href="#tg" x="1094.0" y="690.1"/><use href="#tg" x="1095.5" y="687.7"/><use href="#tg" x="1097.0" y="686.9"/><use href="#tg" x="1098.5" y="686.8"/><use href="#tg" x="1100.0" y="690.6"/><use href="#tg" x="1101.5" y="687.1"/><use href="#tg" x="1103.0" y="689.1"/><use href="#tg" x="1104.5" y="687.1"/><use href="#tg" x="1106.0" y="689.1"/><use href="#tg" x="1107.5" y="691.4"/><use href="#tg" x="1109.0" y="687.5"/><use href="#tg" x="1110.5" y="691.0"/><use href="#tg" x="1112.0" y="689.2"/><use href="#tg" x="1113.5" y="691.3"/><use href="#tg" x="1115.0" y="690.1"/><use href="#tg" x="1116.5" y="687.1"/><use href="#tg" x="1118.0" y="691.2"/><use href="#tg" x="1119.5" y="688.4"/><use href="#tg" x="1121.0" y="684.9"/><use href="#tg" x="1122.5" y="684.4"/><use href="#tg" x="1124.0" y="687.9"/><use href="#tg" x="1125.5" y="687.5"/><use href="#tg" x="1127.0" y="686.0"/><use href="#tg" x="1128.5" y="684.4"/><use href="#tg" x="1130.0" y="686.0"/><use href="#tg" x="1131.5" y="685.8"/><use href="#tg" x="1133.0" y="690.9"/><use href="#tg" x="1134.5" y="682.7"/><use href="#tg" x="1136.0" y="690.5"/><use href="#tg" x="1137.5" y="691.7"/><use href="#tg" x="1139.0" y="683.8"/><use href="#tg" x="1140.5" y="693.1"/><use href="#tg" x="1142.0" y="690.9"/><use href="#tg" x="1143.5" y="693.4"/><use href="#tg" x="1145.0" y="685.8"/><use href="#tg" x="1146.5" y="687.0"/><use href="#tg" x="1148.0" y="687.3"/><use href="#tg" x="1149.5" y="695.8"/><use href="#tg" x="1151.0" y="689.6"/><use href="#tg" x="1152.5" y="685.6"/><use href="#tg" x="1154.0" y="685.8"/><use href="#tg" x="1155.5" y="682.8"/><use href="#tg" x="1157.0" y="678.8"/><use href="#tg" x="1158.5" y="678.7"/><use href="#tg" x="1160.0" y="688.6"/><use href="#tg" x="1161.5" y="679.8"/><use href="#tg" x="1163.0" y="688.5"/><use href="#tg" x="1164.5" y="677.7"/><use href="#tg" x="1166.0" y="677.1"/><use href="#tg" x="1167.5" y="680.0"/><use href="#tg" x="1169.0" y="674.4"/><use href="#tg" x="1170.5" y="676.6"/><use href="#tg" x="1172.0" y="685.2"/><use href="#tg" x="1173.5" y="683.9"/><use href="#tg" x="1175.0" y="682.7"/><use href="#tg" x="1176.5" y="679.8"/><use href="#tg" x="1178.0" y="683.9"/><use href="#tg" x="1179.5" y="684.2"/><use href="#tg" x="1181.0" y="678.2"/><use href="#tg" x="1182.5" y="680.6"/><use href="#tg" x="1184.0" y="670.4"/><use href="#tg" x="1185.5" y="680.5"/><use href="#tg" x="1187.0" y="676.1"/><use href="#tg" x="1188.5" y="680.5"/><use href="#tg" x="1190.0" y="678.8"/><use href="#tg" x="1191.5" y="672.9"/><use href="#tg" x="1193.0" y="668.8"/><use href="#tg" x="1194.5" y="682.0"/><use href="#tg" x="1196.0" y="669.0"/><use href="#tg" x="1197.5" y="674.1"/><use href="#tg" x="1199.0" y="671.5"/><use href="#tg" x="1200.5" y="670.3"/><use href="#tg" x="1202.0" y="677.3"/><use href="#tg" x="1203.5" y="680.9"/><use href="#tg" x="1205.0" y="668.3"/><use href="#tg" x="1206.5" y="674.7"/><use href="#tg" x="1208.0" y="668.0"/><use href="#tg" x="1209.5" y="672.2"/><use href="#tg" x="1211.0" y="669.0"/><use href="#tg" x="1212.5" y="664.8"/><use href="#tg" x="1214.0" y="664.5"/><use href="#tg" x="1215.5" y="665.2"/><use href="#tg" x="1217.0" y="677.7"/><use href="#tg" x="1218.5" y="670.2"/><use href="#tg" x="1220.0" y="665.1"/><use href="#tg" x="1221.5" y="677.3"/><use href="#tg" x="1223.0" y="678.8"/><use href="#tg" x="1224.5" y="668.8"/><use href="#tg" x="1226.0" y="663.1"/><use href="#tg" x="1227.5" y="663.9"/><use href="#tg" x="1229.0" y="661.9"/><use href="#tg" x="1230.5" y="666.5"/><use href="#tg" x="1232.0" y="662.3"/><use href="#tg" x="1233.5" y="665.3"/><use href="#tg" x="1235.0" y="666.0"/><use href="#tg" x="1236.5" y="671.9"/><use href="#tg" x="1238.0" y="677.8"/><use href="#tg" x="1239.5" y="675.7"/><use href="#tg" x="1241.0" y="670.1"/><use href="#tg" x="1242.5" y="670.5"/><use href="#tg" x="1244.0" y="672.7"/><use href="#tg" x="1245.5" y="670.5"/><use href="#tg" x="1247.0" y="670.2"/><use href="#tg" x="1248.5" y="665.8"/><use href="#tg" x="1250.0" y="669.8"/><use href="#tg" x="1251.5" y="682.2"/><use href="#tg" x="1253.0" y="670.1"/><use href="#tg" x="1254.5" y="676.9"/><use href="#tg" x="1256.0" y="679.6"/><use href="#tg" x="1257.5" y="683.4"/><use href="#tg" x="1259.0" y="677.0"/><use href="#tg" x="1260.5" y="678.9"/><use href="#tg" x="1262.0" y="680.0"/><use href="#tg" x="1263.5" y="682.5"/><use href="#tg" x="1265.0" y="684.0"/><use href="#tg" x="1266.5" y="688.9"/><use href="#tg" x="1268.0" y="689.7"/><use href="#tg" x="1269.5" y="691.2"/><use href="#tg" x="1271.0" y="688.9"/><use href="#tg" x="1272.5" y="690.9"/></g>
<path d="M780,1001L785,1009.5L775,1009.5Z" fill="#fff" stroke="#707070" stroke-width="1"/>
<path d="M1274.8,689.5L1285,705.5L1268,705.5Z" fill="#fff" stroke="#555" stroke-width="0.9" stroke-dasharray="1.5 1"/>
<path d="M1274,703L1280.5,711L1271,711Z" fill="#fff" stroke="#333" stroke-width="0.9"/>
<g font-weight="bold" font-size="17.5">
<line x1="421.6" y1="661.2" x2="473.6" y2="661.2" stroke="#0a0ac4" stroke-width="4.6"/>
<text x="477.5" y="667.6" textLength="88.5" lengthAdjust="spacingAndGlyphs">Sample 1</text>
<line x1="423.7" y1="685.3" x2="471.6" y2="685.3" stroke="#e0474a" stroke-width="4.6"/>
<text x="477.5" y="691.7" textLength="88.5" lengthAdjust="spacingAndGlyphs">Sample 2</text>
<line x1="424.4" y1="709.4" x2="470.9" y2="709.4" stroke="#636363" stroke-width="4.6"/>
<text x="477.5" y="715.8" textLength="88.5" lengthAdjust="spacingAndGlyphs">Sample 3</text>
<line x1="1083" y1="749.4" x2="1134.6" y2="749.4" stroke="#0e0ee2" stroke-width="5.5"/>
<path d="M1109.5,743.9L1115,753.4L1104,753.4Z" fill="#fff" stroke="#0e0ee2" stroke-width="1.2"/>
<text x="1140" y="756.0" textLength="88" lengthAdjust="spacingAndGlyphs">Sample 1</text>
<line x1="1085.7" y1="773.8" x2="1133.2" y2="773.8" stroke="#e04848" stroke-width="4.6"/>
<path d="M1109.5,768.3L1115,777.8L1104,777.8Z" fill="#fff" stroke="#e04848" stroke-width="1.2"/>
<text x="1140" y="780.4" textLength="88" lengthAdjust="spacingAndGlyphs">Sample 2</text>
<line x1="1085.7" y1="798.2" x2="1133.2" y2="798.2" stroke="#666" stroke-width="4.6"/>
<path d="M1109.5,792.7L1115,802.2L1104,802.2Z" fill="#fff" stroke="#666" stroke-width="1.2"/>
<text x="1140" y="804.8" textLength="88" lengthAdjust="spacingAndGlyphs">Sample 3</text>
</g>
<g font-size="38.5">
<text transform="translate(221,1186.2) scale(1,1.05)" fill="#1c1cae">Sample 1</text>
<text transform="translate(615,1186.2) scale(1,1.05)" fill="#d01e28">Sample 2</text>
<text transform="translate(1012.5,1186.2) scale(1,1.05)" fill="#161616">Sample 3</text>
</g>
<rect x="172.5" y="1206" width="279.1" height="71.4" fill="#898c95" filter="url(#grain2)"/>
<polygon points="172.5,1206.0 361.0,1206.0 360.0,1214.0 362.5,1222.0 360.5,1232.0 362.5,1244.0 360.0,1256.0 361.5,1266.0 360.0,1277.4 172.5,1277.4" fill="#4e4f4f" filter="url(#grain)"/>
<rect x="172.5" y="1287.2" width="279.1" height="67.1" fill="#72767f" filter="url(#grain2)"/>
<polygon points="172.5,1287.2 405.2,1287.2 405.2,1354.3 172.5,1354.3" fill="#585955" filter="url(#grain)"/>
<polygon points="172.5,1287.2 355.0,1287.2 353.5,1310.0 354.5,1330.0 353.0,1354.3 172.5,1354.3" fill="#4c4d4c" filter="url(#grain)"/>
<polygon points="380,1286.5 451.6,1286.5 451.6,1288.6 440,1288.4 430,1289 418,1288.5 405,1289.2 392,1288.4 380,1287.6" fill="#fff" opacity="0.9"/>
<path d="M250,1274 Q262,1268 285,1271 L300,1276 L250,1276Z" fill="#5a6070" opacity="0.3"/>
<circle cx="233.5" cy="1343.5" r="1.2" fill="#d8d8d8"/>
<rect x="172.5" y="1362.1" width="279.1" height="84.7" fill="#a4a398" filter="url(#brush)"/>
<rect x="172.5" y="1362.1" width="279.1" height="1.5" fill="#7c7b72"/>
<path d="M177.3,1362.1v16.5M177.3,1446.8v-13.5M185.0,1362.1v16.5M185.0,1446.8v-13.5M192.8,1362.1v33M192.8,1446.8v-31.5M200.6,1362.1v16.5M200.6,1446.8v-13.5M208.3,1362.1v16.5M208.3,1446.8v-13.5M216.1,1362.1v16.5M216.1,1446.8v-13.5M223.9,1362.1v16.5M223.9,1446.8v-13.5M231.7,1362.1v25M231.7,1446.8v-17M239.4,1362.1v16.5M239.4,1446.8v-13.5M247.2,1362.1v16.5M247.2,1446.8v-13.5M255.0,1362.1v16.5M255.0,1446.8v-13.5M262.7,1362.1v16.5M262.7,1446.8v-13.5M270.5,1362.1v33M270.5,1446.8v-31.5M278.3,1362.1v16.5M278.3,1446.8v-13.5M286.0,1362.1v16.5M286.0,1446.8v-13.5M293.8,1362.1v16.5M293.8,1446.8v-13.5M301.6,1362.1v16.5M301.6,1446.8v-13.5M309.4,1362.1v25M309.4,1446.8v-17M317.1,1362.1v16.5M317.1,1446.8v-13.5M324.9,1362.1v16.5M324.9,1446.8v-13.5M332.7,1362.1v16.5M332.7,1446.8v-13.5M340.4,1362.1v16.5M340.4,1446.8v-13.5M348.2,1362.1v33M348.2,1446.8v-31.5M356.0,1362.1v16.5M356.0,1446.8v-13.5M363.7,1362.1v16.5M363.7,1446.8v-13.5M371.5,1362.1v16.5M371.5,1446.8v-13.5M379.3,1362.1v16.5M379.3,1446.8v-13.5M387.1,1362.1v25M387.1,1446.8v-17M394.8,1362.1v16.5M394.8,1446.8v-13.5M402.6,1362.1v16.5M402.6,1446.8v-13.5M410.4,1362.1v16.5M410.4,1446.8v-13.5M418.1,1362.1v16.5M418.1,1446.8v-13.5M425.9,1362.1v33M425.9,1446.8v-31.5M433.7,1362.1v16.5M433.7,1446.8v-13.5M441.4,1362.1v16.5M441.4,1446.8v-13.5M449.2,1362.1v16.5M449.2,1446.8v-13.5" stroke="#43433d" stroke-width="1.3" fill="none"/>
<path d="M173.4,1446.8v-8.5M181.1,1446.8v-8.5M188.9,1446.8v-8.5M196.7,1446.8v-8.5M204.5,1446.8v-8.5M212.2,1446.8v-8.5M220.0,1446.8v-8.5M227.8,1446.8v-8.5M235.5,1446.8v-8.5M243.3,1446.8v-8.5M251.1,1446.8v-8.5M258.8,1446.8v-8.5M266.6,1446.8v-8.5M274.4,1446.8v-8.5M282.2,1446.8v-8.5M289.9,1446.8v-8.5M297.7,1446.8v-8.5M305.5,1446.8v-8.5M313.2,1446.8v-8.5M321.0,1446.8v-8.5M328.8,1446.8v-8.5M336.5,1446.8v-8.5M344.3,1446.8v-8.5M352.1,1446.8v-8.5M359.9,1446.8v-8.5M367.6,1446.8v-8.5M375.4,1446.8v-8.5M383.2,1446.8v-8.5M390.9,1446.8v-8.5M398.7,1446.8v-8.5M406.5,1446.8v-8.5M414.2,1446.8v-8.5M422.0,1446.8v-8.5M429.8,1446.8v-8.5M437.6,1446.8v-8.5M445.3,1446.8v-8.5" stroke="#4a4a44" stroke-width="1.2" fill="none"/>
<text x="179.6" y="1412.8" font-size="19" font-weight="bold" fill="#262624" stroke="#a4a398" stroke-width="0.5" textLength="26.4" lengthAdjust="spacingAndGlyphs">60</text>
<text x="257.3" y="1412.8" font-size="19" font-weight="bold" fill="#262624" stroke="#a4a398" stroke-width="0.5" textLength="26.4" lengthAdjust="spacingAndGlyphs">70</text>
<text x="335.0" y="1412.8" font-size="19" font-weight="bold" fill="#262624" stroke="#a4a398" stroke-width="0.5" textLength="26.4" lengthAdjust="spacingAndGlyphs">80</text>
<text x="412.7" y="1412.8" font-size="19" font-weight="bold" fill="#262624" stroke="#a4a398" stroke-width="0.5" textLength="26.4" lengthAdjust="spacingAndGlyphs">90</text>
<text x="302.0" y="1425.8" font-size="10.8" fill="#2a2a26" stroke="#2a2a26" stroke-width="0.25" textLength="118.9" lengthAdjust="spacingAndGlyphs">MADE IN KOREA</text>
<rect x="568.4" y="1206.3" width="278.9" height="72.4" fill="#858893" filter="url(#grain2)"/>
<polygon points="568.4,1206.3 794.4,1206.3 794.4,1215.1 791.0,1216.7 793.6,1222.6 786.9,1228.5 783.5,1235.1 786.9,1241.0 783.5,1245.2 787.7,1250.2 782.7,1255.2 783.5,1262.8 775.1,1270.3 772.6,1278.7 568.4,1278.7" fill="#414141" filter="url(#grain)"/>
<rect x="568.4" y="1288.5" width="278.9" height="65.6" fill="#72767f" filter="url(#grain2)"/>
<polygon points="568.4,1288.5 818.7,1288.5 818.7,1354.1 568.4,1354.1" fill="#52534f" filter="url(#grain)"/>
<polygon points="568.4,1288.5 765.1,1288.5 770.0,1298.0 775.1,1307.1 779.3,1319.7 781.8,1332.2 784.0,1343.0 786.9,1354.1 568.4,1354.1" fill="#414241" filter="url(#grain)"/>
<rect x="568.4" y="1362.1" width="278.9" height="84.7" fill="#a4a398" filter="url(#brush)"/>
<rect x="568.4" y="1362.1" width="278.9" height="1.5" fill="#7c7b72"/>
<path d="M572.9,1362.1v16.5M572.9,1446.8v-13.5M580.6,1362.1v16.5M580.6,1446.8v-13.5M588.3,1362.1v33M588.3,1446.8v-31.5M596.0,1362.1v16.5M596.0,1446.8v-13.5M603.7,1362.1v16.5M603.7,1446.8v-13.5M611.4,1362.1v16.5M611.4,1446.8v-13.5M619.1,1362.1v16.5M619.1,1446.8v-13.5M626.8,1362.1v25M626.8,1446.8v-17M634.4,1362.1v16.5M634.4,1446.8v-13.5M642.1,1362.1v16.5M642.1,1446.8v-13.5M649.8,1362.1v16.5M649.8,1446.8v-13.5M657.5,1362.1v16.5M657.5,1446.8v-13.5M665.2,1362.1v33M665.2,1446.8v-31.5M672.9,1362.1v16.5M672.9,1446.8v-13.5M680.6,1362.1v16.5M680.6,1446.8v-13.5M688.3,1362.1v16.5M688.3,1446.8v-13.5M696.0,1362.1v16.5M696.0,1446.8v-13.5M703.6,1362.1v25M703.6,1446.8v-17M711.3,1362.1v16.5M711.3,1446.8v-13.5M719.0,1362.1v16.5M719.0,1446.8v-13.5M726.7,1362.1v16.5M726.7,1446.8v-13.5M734.4,1362.1v16.5M734.4,1446.8v-13.5M742.1,1362.1v33M742.1,1446.8v-31.5M749.8,1362.1v16.5M749.8,1446.8v-13.5M757.5,1362.1v16.5M757.5,1446.8v-13.5M765.2,1362.1v16.5M765.2,1446.8v-13.5M772.9,1362.1v16.5M772.9,1446.8v-13.5M780.5,1362.1v25M780.5,1446.8v-17M788.2,1362.1v16.5M788.2,1446.8v-13.5M795.9,1362.1v16.5M795.9,1446.8v-13.5M803.6,1362.1v16.5M803.6,1446.8v-13.5M811.3,1362.1v16.5M811.3,1446.8v-13.5M819.0,1362.1v33M819.0,1446.8v-31.5M826.7,1362.1v16.5M826.7,1446.8v-13.5M834.4,1362.1v16.5M834.4,1446.8v-13.5M842.1,1362.1v16.5M842.1,1446.8v-13.5" stroke="#43433d" stroke-width="1.3" fill="none"/>
<path d="M576.8,1446.8v-8.5M584.5,1446.8v-8.5M592.1,1446.8v-8.5M599.8,1446.8v-8.5M607.5,1446.8v-8.5M615.2,1446.8v-8.5M622.9,1446.8v-8.5M630.6,1446.8v-8.5M638.3,1446.8v-8.5M646.0,1446.8v-8.5M653.7,1446.8v-8.5M661.4,1446.8v-8.5M669.0,1446.8v-8.5M676.7,1446.8v-8.5M684.4,1446.8v-8.5M692.1,1446.8v-8.5M699.8,1446.8v-8.5M707.5,1446.8v-8.5M715.2,1446.8v-8.5M722.9,1446.8v-8.5M730.6,1446.8v-8.5M738.3,1446.8v-8.5M745.9,1446.8v-8.5M753.6,1446.8v-8.5M761.3,1446.8v-8.5M769.0,1446.8v-8.5M776.7,1446.8v-8.5M784.4,1446.8v-8.5M792.1,1446.8v-8.5M799.8,1446.8v-8.5M807.5,1446.8v-8.5M815.2,1446.8v-8.5M822.8,1446.8v-8.5M830.5,1446.8v-8.5M838.2,1446.8v-8.5M845.9,1446.8v-8.5" stroke="#4a4a44" stroke-width="1.2" fill="none"/>
<text x="575.1" y="1412.8" font-size="19" font-weight="bold" fill="#262624" stroke="#a4a398" stroke-width="0.5" textLength="26.4" lengthAdjust="spacingAndGlyphs">60</text>
<text x="652.0" y="1412.8" font-size="19" font-weight="bold" fill="#262624" stroke="#a4a398" stroke-width="0.5" textLength="26.4" lengthAdjust="spacingAndGlyphs">70</text>
<text x="728.9" y="1412.8" font-size="19" font-weight="bold" fill="#262624" stroke="#a4a398" stroke-width="0.5" textLength="26.4" lengthAdjust="spacingAndGlyphs">80</text>
<text x="805.8" y="1412.8" font-size="19" font-weight="bold" fill="#262624" stroke="#a4a398" stroke-width="0.5" textLength="26.4" lengthAdjust="spacingAndGlyphs">90</text>
<text x="696.3" y="1425.8" font-size="10.8" fill="#2a2a26" stroke="#2a2a26" stroke-width="0.25" textLength="117.7" lengthAdjust="spacingAndGlyphs">MADE IN KOREA</text>
<rect x="964.1" y="1206.1" width="278.5" height="72.5" fill="#868a94" filter="url(#grain2)"/>
<polygon points="964.1,1206.1 1158.7,1206.1 1161.5,1213.2 1159.3,1224.3 1160.9,1228.7 1159.3,1236.4 1162.6,1249.7 1163.1,1261.8 1164.2,1269.6 1162.6,1278.6 964.1,1278.6" fill="#444545" filter="url(#grain)"/>
<rect x="964.1" y="1290" width="278.5" height="66.8" fill="#6e737d" filter="url(#grain2)"/>
<polygon points="964.1,1290.0 1175.3,1290.0 1175.3,1356.8 964.1,1356.8" fill="#4a4a48" filter="url(#grain)"/>
<polygon points="964.1,1290.0 1156.0,1290.0 1157.0,1305.0 1154.0,1320.0 1152.5,1335.0 1151.0,1356.8 964.1,1356.8" fill="#424343" filter="url(#grain)"/>
<ellipse cx="1157.6" cy="1333.6" rx="3" ry="4" fill="#7c7d7a" opacity="0.8"/>
<rect x="964.1" y="1364.7" width="278.5" height="82.1" fill="#a4a398" filter="url(#brush)"/>
<rect x="964.1" y="1364.7" width="278.5" height="1.5" fill="#7c7b72"/>
<path d="M968.0,1364.7v16.5M968.0,1446.8v-13.5M975.8,1364.7v16.5M975.8,1446.8v-13.5M983.5,1364.7v33M983.5,1446.8v-31.5M991.2,1364.7v16.5M991.2,1446.8v-13.5M999.0,1364.7v16.5M999.0,1446.8v-13.5M1006.7,1364.7v16.5M1006.7,1446.8v-13.5M1014.5,1364.7v16.5M1014.5,1446.8v-13.5M1022.2,1364.7v25M1022.2,1446.8v-17M1029.9,1364.7v16.5M1029.9,1446.8v-13.5M1037.7,1364.7v16.5M1037.7,1446.8v-13.5M1045.4,1364.7v16.5M1045.4,1446.8v-13.5M1053.2,1364.7v16.5M1053.2,1446.8v-13.5M1060.9,1364.7v33M1060.9,1446.8v-31.5M1068.6,1364.7v16.5M1068.6,1446.8v-13.5M1076.4,1364.7v16.5M1076.4,1446.8v-13.5M1084.1,1364.7v16.5M1084.1,1446.8v-13.5M1091.9,1364.7v16.5M1091.9,1446.8v-13.5M1099.6,1364.7v25M1099.6,1446.8v-17M1107.3,1364.7v16.5M1107.3,1446.8v-13.5M1115.1,1364.7v16.5M1115.1,1446.8v-13.5M1122.8,1364.7v16.5M1122.8,1446.8v-13.5M1130.6,1364.7v16.5M1130.6,1446.8v-13.5M1138.3,1364.7v33M1138.3,1446.8v-31.5M1146.0,1364.7v16.5M1146.0,1446.8v-13.5M1153.8,1364.7v16.5M1153.8,1446.8v-13.5M1161.5,1364.7v16.5M1161.5,1446.8v-13.5M1169.3,1364.7v16.5M1169.3,1446.8v-13.5M1177.0,1364.7v25M1177.0,1446.8v-17M1184.7,1364.7v16.5M1184.7,1446.8v-13.5M1192.5,1364.7v16.5M1192.5,1446.8v-13.5M1200.2,1364.7v16.5M1200.2,1446.8v-13.5M1208.0,1364.7v16.5M1208.0,1446.8v-13.5M1215.7,1364.7v33M1215.7,1446.8v-31.5M1223.4,1364.7v16.5M1223.4,1446.8v-13.5M1231.2,1364.7v16.5M1231.2,1446.8v-13.5M1238.9,1364.7v16.5M1238.9,1446.8v-13.5" stroke="#43433d" stroke-width="1.3" fill="none"/>
<path d="M971.9,1446.8v-8.5M979.6,1446.8v-8.5M987.4,1446.8v-8.5M995.1,1446.8v-8.5M1002.9,1446.8v-8.5M1010.6,1446.8v-8.5M1018.3,1446.8v-8.5M1026.1,1446.8v-8.5M1033.8,1446.8v-8.5M1041.5,1446.8v-8.5M1049.3,1446.8v-8.5M1057.0,1446.8v-8.5M1064.8,1446.8v-8.5M1072.5,1446.8v-8.5M1080.2,1446.8v-8.5M1088.0,1446.8v-8.5M1095.7,1446.8v-8.5M1103.5,1446.8v-8.5M1111.2,1446.8v-8.5M1118.9,1446.8v-8.5M1126.7,1446.8v-8.5M1134.4,1446.8v-8.5M1142.2,1446.8v-8.5M1149.9,1446.8v-8.5M1157.6,1446.8v-8.5M1165.4,1446.8v-8.5M1173.1,1446.8v-8.5M1180.9,1446.8v-8.5M1188.6,1446.8v-8.5M1196.3,1446.8v-8.5M1204.1,1446.8v-8.5M1211.8,1446.8v-8.5M1219.6,1446.8v-8.5M1227.3,1446.8v-8.5M1235.0,1446.8v-8.5" stroke="#4a4a44" stroke-width="1.2" fill="none"/>
<text x="970.3" y="1413.7" font-size="19" font-weight="bold" fill="#262624" stroke="#a4a398" stroke-width="0.5" textLength="26.4" lengthAdjust="spacingAndGlyphs">60</text>
<text x="1047.7" y="1413.7" font-size="19" font-weight="bold" fill="#262624" stroke="#a4a398" stroke-width="0.5" textLength="26.4" lengthAdjust="spacingAndGlyphs">70</text>
<text x="1125.1" y="1413.7" font-size="19" font-weight="bold" fill="#262624" stroke="#a4a398" stroke-width="0.5" textLength="26.4" lengthAdjust="spacingAndGlyphs">80</text>
<text x="1202.5" y="1413.7" font-size="19" font-weight="bold" fill="#262624" stroke="#a4a398" stroke-width="0.5" textLength="26.4" lengthAdjust="spacingAndGlyphs">90</text>
<text x="1092.2" y="1426.6" font-size="10.8" fill="#2a2a26" stroke="#2a2a26" stroke-width="0.25" textLength="118.4" lengthAdjust="spacingAndGlyphs">MADE IN KOREA</text>
</svg></body></html>
